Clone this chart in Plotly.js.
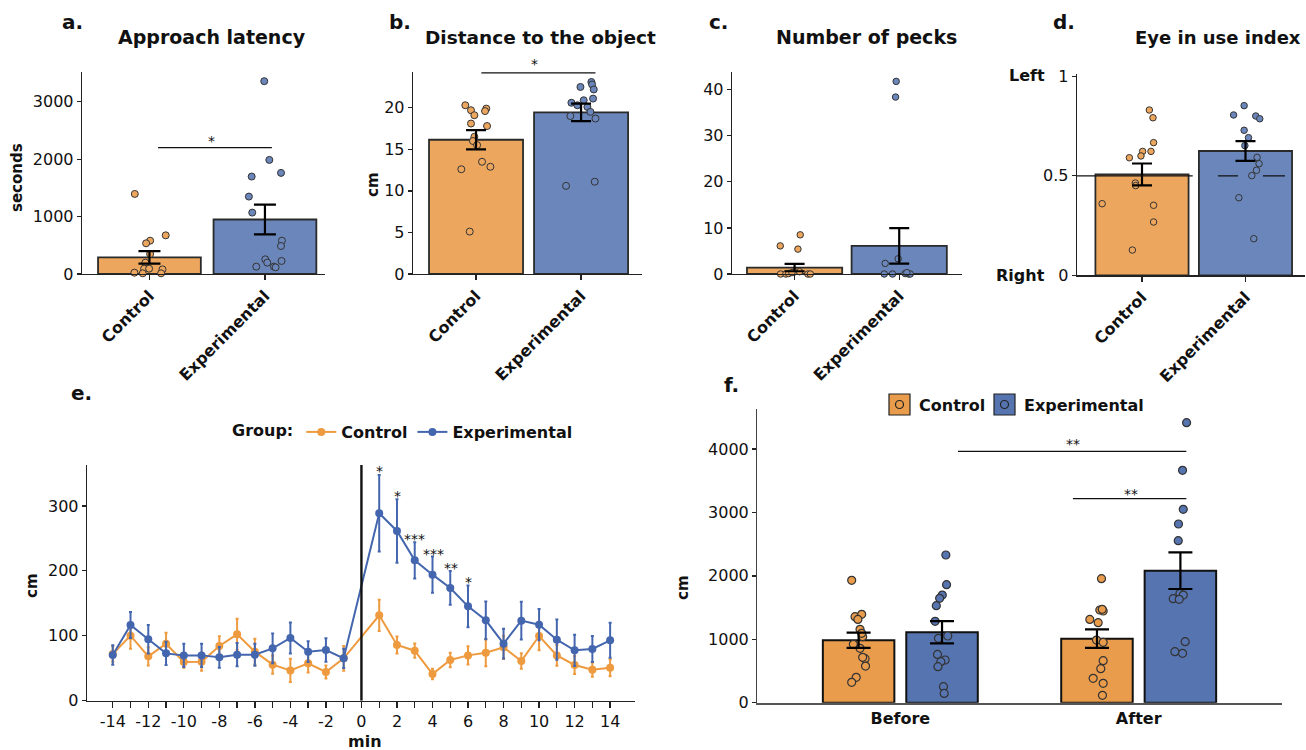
<!DOCTYPE html>
<html>
<head>
<meta charset="utf-8">
<script src="https://cdn.plot.ly/plotly-3.0.1.min.js"></script>
<style>html,body{margin:0;padding:0;background:#fff;}#chart{width:1306px;height:750px;}</style>
</head>
<body>
<div id="chart"></div>
<script>
// ---------------- DATA ----------------
const groups = ['Control', 'Experimental'];

// a. Approach latency (seconds)
const aMeans = [290, 950];
const aSE = [110, 260];
const aCtrl = [1395, 674, 581, 535, 349, 198, 93, 93, 81, 23, 12, 12];
const aCtrlJit = [-0.127, 0.141, 0.006, -0.029, 0.006, -0.035, -0.046, -0.003, 0.113, -0.13, -0.058, 0.101];
const aExp = [3360, 1988, 1762, 1698, 1349, 1070, 581, 488, 256, 198, 128, 128, 116, 227];
const aExpJit = [-0.006, 0.038, 0.139, -0.115, -0.139, -0.110, 0.147, 0.139, 0.003, 0.02, -0.075, 0.078, 0.092, 0.144];

// b. Distance to the object (cm)
const bMeans = [16.15, 19.45];
const bSE = [1.15, 1.05];
const bCtrl = [20.3, 19.7, 19.1, 19.9, 19.6, 18.1, 17.8, 16.5, 16.0, 15.5, 13.5, 12.9, 12.6, 5.1];
const bCtrlJit = [-0.102, -0.048, -0.016, 0.098, 0.086, -0.048, 0.105, -0.016, -0.029, 0.01, 0.057, 0.137, -0.14, -0.06];
const bExp = [23.1, 22.8, 22.5, 22.2, 21.1, 20.9, 20.6, 20.1, 20.3, 19.5, 19.0, 18.7, 10.6, 11.1];
const bExpJit = [0.098, 0.105, -0.006, 0.121, 0.114, 0.025, -0.092, 0.06, -0.035, 0.089, -0.102, 0.137, -0.143, 0.13];

// c. Number of pecks
const cMeans = [1.4, 6.1];
const cSE = [0.8, 3.85];
const cCtrl = [0, 0, 0.1, 0.5, 8.5, 5.4, 6.1, 0.5, 0, 0, 0.3];
const cCtrlJit = [-0.134, -0.083, -0.057, 0.006, 0.054, 0.032, -0.137, 0.048, 0.127, 0.15, -0.025];
const cExp = [41.8, 38.4, 3.3, 2.3, 0, 0, 0.1, 0, 0, 0.3];
const cExpJit = [-0.029, -0.035, -0.01, -0.134, -0.143, -0.064, 0.057, 0.089, 0.105, 0.073];

// d. Eye in use index
const dMeans = [0.507, 0.625];
const dSE = [0.055, 0.05];
const dCtrl = [0.831, 0.792, 0.667, 0.623, 0.623, 0.6, 0.591, 0.464, 0.451, 0.36, 0.352, 0.268, 0.127];
const dCtrlJit = [0.071, 0.106, 0.112, 0.006, 0.087, -0.01, -0.122, -0.064, -0.061, -0.385, 0.112, 0.112, -0.093];
const dExp = [0.853, 0.806, 0.801, 0.787, 0.729, 0.692, 0.652, 0.593, 0.561, 0.528, 0.501, 0.39, 0.184];
const dExpJit = [-0.013, -0.115, 0.099, 0.138, -0.013, 0.029, -0.006, 0.112, 0.131, 0.106, 0.061, -0.064, 0.08];
const dRef = 0.5;

// e. Distance per minute (cm)
const eMin = [-14, -13, -12, -11, -10, -9, -8, -7, -6, -5, -4, -3, -2, -1, 1, 2, 3, 4, 5, 6, 7, 8, 9, 10, 11, 12, 13, 14];
const eCtrl = [71.9, 100.2, 68.3, 87.8, 59.6, 60.1, 84.2, 102.2, 75.5, 55.5, 46.7, 57.5, 44.2, 65.2,
               131.5, 85.8, 77, 41.1, 62.7, 69.8, 74, 82.2, 61.1, 99.6, 69.8, 55, 47.8, 50.8];
const eCtrlSE = [12, 20, 14, 17, 9, 14, 15, 24, 20, 14, 18, 14, 10, 19,
                 24, 13, 11, 8, 11, 14, 21, 18, 12, 22, 16, 14, 11, 13];
const eExp = [70.4, 116.6, 94.5, 72.9, 69.8, 69.8, 66.8, 70.9, 70.9, 80.6, 96.6, 75.5, 78, 65.2,
              288.6, 261.4, 216.2, 194.1, 173.6, 145.3, 123.8, 87.8, 123.3, 117.1, 94, 77.6, 79.6, 93];
const eExpSE = [15, 20, 22, 18, 18, 18, 16, 18, 17, 23, 24, 16, 18, 15,
                59, 49, 28, 28, 26, 32, 29, 23, 29, 24, 31, 24, 20, 27];
const eTickVals = [-14, -13, -12, -11, -10, -9, -8, -7, -6, -5, -4, -3, -2, -1, 0, 1, 2, 3, 4, 5, 6, 7, 8, 9, 10, 11, 12, 13, 14];
const eTickText = ['-14', '', '-12', '', '-10', '', '-8', '', '-6', '', '-4', '', '-2', '', '0', '', '2', '', '4', '', '6', '', '8', '', '10', '', '12', '', '14'];
const eStars = ['*', '*', '***', '***', '**', '*'];

// f. Before / After (cm)
const phases = ['Before', 'After'];
const fCtrlMeans = [985, 1010];
const fCtrlSE = [120, 145];
const fExpMeans = [1110, 2082];
const fExpSE = [175, 289];
const fCtrlBefore = [1930, 1356, 1393, 1314, 1157, 1041, 1094, 920, 857, 694, 715, 578, 400, 321];
const fCtrlBeforeJit = [-0.029, -0.015, 0.013, -0.003, 0.006, 0.017, 0.013, -0.022, 0.006, 0.027, 0.017, 0.029, -0.01, -0.029];
const fExpBefore = [2329, 1861, 1698, 1646, 1530, 1283, 1052, 1015, 762, 673, 647, 568, 252, 147];
const fExpBeforeJit = [0.016, 0.019, 0.001, -0.01, -0.024, -0.029, 0.024, -0.015, -0.019, 0.013, -0.005, -0.017, 0.006, 0.009];
const fCtrlAfter = [1956, 1462, 1446, 1472, 1314, 1262, 988, 952, 662, 536, 384, 305, 116];
const fCtrlAfterJit = [0.019, 0.012, 0.026, 0.022, -0.03, 0.005, -0.002, 0.026, 0.026, 0.016, -0.016, 0.026, 0.023];
const fExpAfter = [4416, 3665, 3049, 2818, 2555, 1724, 1698, 1640, 1630, 962, 804, 778];
const fExpAfterJit = [0.026, 0.009, 0.012, -0.008, -0.009, -0.002, 0.012, -0.03, -0.005, 0.02, -0.023, 0.009];

// ---------------- STYLE ----------------
const F = 'DejaVu Sans, Arial, sans-serif';
const W = 1306, H = 750;
const px = v => v / W;
const py = v => 1 - v / H;
const ORANGE = '#EDA65E', BLUE = '#6A86BB';
const ORANGE_F = '#E99C4B', BLUE_F = '#5674B0';
const ORANGE_E = '#EE9A3F', BLUE_E = '#4466AE';
const INK = '#111';
const OUT = '#2a2a2a';

const traces = [];

function barPanel(xa, ya, means, se, ctrl, ctrlJit, exp, expJit, bw, msize, capw) {
  traces.push({type: 'bar', x: [0, 1], y: means, width: [bw, bw], xaxis: xa, yaxis: ya,
    marker: {color: [ORANGE, BLUE], line: {color: OUT, width: 1.8}}, showlegend: false, hoverinfo: 'skip'});
  traces.push({type: 'scatter', mode: 'markers', x: ctrlJit.map(j => 0 + j), y: ctrl, xaxis: xa, yaxis: ya,
    marker: {color: ORANGE, size: msize, line: {color: '#333', width: 1}}, cliponaxis: false, showlegend: false, hoverinfo: 'skip'});
  traces.push({type: 'scatter', mode: 'markers', x: expJit.map(j => 1 + j), y: exp, xaxis: xa, yaxis: ya,
    marker: {color: BLUE, size: msize, line: {color: '#333', width: 1}}, cliponaxis: false, showlegend: false, hoverinfo: 'skip'});
  traces.push({type: 'scatter', mode: 'markers', x: [0, 1], y: means, xaxis: xa, yaxis: ya,
    marker: {size: 1, opacity: 0}, error_y: {type: 'data', array: se, visible: true, color: '#000', thickness: 2.2, width: capw},
    showlegend: false, hoverinfo: 'skip'});
}

barPanel('x', 'y', aMeans, aSE, aCtrl, aCtrlJit, aExp, aExpJit, 0.89, 7, 11);
barPanel('x2', 'y2', bMeans, bSE, bCtrl, bCtrlJit, bExp, bExpJit, 0.895, 7, 10);
barPanel('x3', 'y3', cMeans, cSE, cCtrl, cCtrlJit, cExp, cExpJit, 0.91, 6.5, 10);
barPanel('x4', 'y4', dMeans, dSE, dCtrl, dCtrlJit, dExp, dExpJit, 0.9, 6.5, 10);

// e
traces.push({type: 'scatter', mode: 'lines+markers', name: 'Control', x: eMin, y: eCtrl, xaxis: 'x5', yaxis: 'y5',
  line: {color: ORANGE_E, width: 2}, marker: {color: ORANGE_E, size: 8},
  error_y: {type: 'data', array: eCtrlSE, visible: true, color: ORANGE_E, thickness: 2, width: 1.5}, hoverinfo: 'skip'});
traces.push({type: 'scatter', mode: 'lines+markers', name: 'Experimental', x: eMin, y: eExp, xaxis: 'x5', yaxis: 'y5',
  line: {color: BLUE_E, width: 2}, marker: {color: BLUE_E, size: 8},
  error_y: {type: 'data', array: eExpSE, visible: true, color: BLUE_E, thickness: 2, width: 1.5}, hoverinfo: 'skip'});

// f
const fOff = 0.175, fW = 0.3;
traces.push({type: 'bar', x: [0 - fOff, 1 - fOff], y: fCtrlMeans, width: [fW, fW], xaxis: 'x6', yaxis: 'y6',
  marker: {color: ORANGE_F, line: {color: '#111', width: 2}}, showlegend: false, hoverinfo: 'skip'});
traces.push({type: 'bar', x: [0 + fOff, 1 + fOff], y: fExpMeans, width: [fW, fW], xaxis: 'x6', yaxis: 'y6',
  marker: {color: BLUE_F, line: {color: '#111', width: 2}}, showlegend: false, hoverinfo: 'skip'});
function fPts(vals, jit, center, color) {
  traces.push({type: 'scatter', mode: 'markers', x: jit.map(j => center + j), y: vals, xaxis: 'x6', yaxis: 'y6',
    marker: {color: color, size: 8, line: {color: '#333', width: 1.2}}, cliponaxis: false, showlegend: false, hoverinfo: 'skip'});
}
fPts(fCtrlBefore, fCtrlBeforeJit, 0 - fOff, ORANGE_F);
fPts(fExpBefore, fExpBeforeJit, 0 + fOff, BLUE_F);
fPts(fCtrlAfter, fCtrlAfterJit, 1 - fOff, ORANGE_F);
fPts(fExpAfter, fExpAfterJit, 1 + fOff, BLUE_F);
traces.push({type: 'scatter', mode: 'markers', x: [0 - fOff, 1 - fOff, 0 + fOff, 1 + fOff],
  y: fCtrlMeans.concat(fExpMeans), xaxis: 'x6', yaxis: 'y6', marker: {size: 1, opacity: 0},
  error_y: {type: 'data', array: fCtrlSE.concat(fExpSE), visible: true, color: '#000', thickness: 2.2, width: 12},
  showlegend: false, hoverinfo: 'skip'});

// ---------------- AXES ----------------
const tickF = {family: F, size: 16, color: INK};
const boldTickF = {family: F, size: 16, color: INK, weight: 'bold'};
function yAx(d0, d1, range, vals, anchor, extra) {
  return Object.assign({domain: [py(d0), py(d1)], range: range, tickvals: vals, anchor: anchor,
    showline: true, linecolor: '#222', linewidth: 1.3, ticks: 'outside', ticklen: 4, tickwidth: 1.3, tickcolor: '#222',
    showgrid: false, zeroline: false, tickfont: tickF, fixedrange: true}, extra || {});
}
function xCat(d0, d1, range, anchor) {
  return {domain: [px(d0), px(d1)], range: range, tickvals: [0, 1], ticktext: groups, tickangle: -45, anchor: anchor,
    showline: true, linecolor: '#222', linewidth: 1.3, ticks: 'outside', ticklen: 5, tickwidth: 1.3, tickcolor: '#222',
    showgrid: false, zeroline: false, tickfont: boldTickF, fixedrange: true};
}

const layout = {
  width: W, height: H, margin: {l: 0, r: 0, t: 0, b: 0},
  paper_bgcolor: '#fff', plot_bgcolor: 'rgba(0,0,0,0)', barmode: 'overlay',
  font: {family: F, color: INK},
  showlegend: true,
  legend: {orientation: 'h', x: px(230), y: py(432), xanchor: 'left', yanchor: 'middle',
    title: {text: 'Group:', side: 'left', font: {family: F, size: 16, color: INK, weight: 'bold'}},
    font: {family: F, size: 16, color: INK, weight: 'bold'}, itemwidth: 30, bgcolor: 'rgba(0,0,0,0)', tracegroupgap: 0},
  xaxis: xCat(82, 325, [-0.584, 1.52], 'y'),
  yaxis: yAx(274, 72, [0, 3520], [0, 1000, 2000, 3000], 'x'),
  xaxis2: xCat(413, 642, [-0.6, 1.58], 'y2'),
  yaxis2: yAx(274, 72, [0, 24.3], [0, 5, 10, 15, 20], 'x2'),
  xaxis3: xCat(732, 962, [-0.598, 1.6], 'y3'),
  yaxis3: yAx(274, 71.7, [0, 43.9], [0, 10, 20, 30, 40], 'x3'),
  xaxis4: xCat(1077, 1305, [-0.628, 1.575], 'y4'),
  yaxis4: yAx(275.3, 74, [0, 1.012], [0, 0.5, 1], 'x4'),
  xaxis5: {domain: [px(87), px(635)], range: [-15.45, 15.4], tickvals: eTickVals, ticktext: eTickText, anchor: 'y5',
    showline: true, linecolor: '#222', linewidth: 1.3, ticks: 'outside', ticklen: 6, tickwidth: 1.3, tickcolor: '#222',
    showgrid: false, zeroline: false, tickfont: tickF, tickangle: 0, fixedrange: true},
  yaxis5: yAx(700.7, 465, [0, 363], [0, 100, 200, 300], 'x5'),
  xaxis6: {domain: [px(757.3), px(1281.7)], range: [-0.6, 1.6], tickvals: [0, 1], ticktext: phases, anchor: 'y6',
    showline: true, linecolor: '#555', linewidth: 2, ticks: '', showgrid: false, zeroline: false,
    tickfont: boldTickF, tickangle: 0, fixedrange: true},
  yaxis6: yAx(702.7, 409.3, [0, 4627], [0, 1000, 2000, 3000, 4000], 'x6', {linecolor: '#444'}),
  shapes: [],
  annotations: []
};

// significance lines and reference lines (in data units)
const L = (xr, yr, x0, x1, y0, y1, w, dash) => ({type: 'line', xref: xr, yref: yr, x0: x0, x1: x1, y0: y0, y1: y1,
  line: {color: '#111', width: w || 1.2, dash: dash || 'solid'}, layer: 'above'});
layout.shapes.push(L('x', 'y', 0.074, 1.06, 2203, 2203));
layout.shapes.push(L('x2', 'y2', 0.051, 1.137, 24.2, 24.2));
layout.shapes.push(L('x4', 'y4', -0.628, 0.49, dRef, dRef, 1.3));
layout.shapes.push(L('x4', 'y4', 0.734, 0.928, dRef, dRef, 1.3));
layout.shapes.push(L('x4', 'y4', 1.169, 1.382, dRef, dRef, 1.3));
layout.shapes.push(L('x5', 'y5', 0, 0, 0, 363, 2.4));
layout.shapes.push(L('x6', 'y6', 0.242, 1.2, 3964, 3964));
layout.shapes.push(L('x6', 'y6', 0.724, 1.2, 3218, 3218));

// f legend boxes
function legBox(x0, color) {
  layout.shapes.push({type: 'rect', xref: 'paper', yref: 'paper', x0: px(x0), x1: px(x0 + 21), y0: py(415), y1: py(394),
    fillcolor: color, line: {color: '#222', width: 1.2}});
  layout.shapes.push({type: 'circle', xref: 'paper', yref: 'paper', x0: px(x0 + 6.5), x1: px(x0 + 14.5), y0: py(408.5), y1: py(400.5),
    fillcolor: color, line: {color: '#222', width: 1.2}});
}
legBox(889, ORANGE_F);
legBox(994, BLUE_F);

// annotations
function ann(text, x, y, o) {
  layout.annotations.push(Object.assign({text: text, xref: 'paper', yref: 'paper', x: px(x), y: py(y),
    xanchor: 'center', yanchor: 'middle', showarrow: false, font: {family: F, size: 16, color: INK}}, o || {}));
}
const bold = (s, sz) => ({font: {family: F, size: sz, color: INK, weight: 'bold'}});
// panel letters
ann('a.', 72, 22, bold('', 20)); ann('b.', 400, 22, bold('', 20)); ann('c.', 718, 22, bold('', 20));
ann('d.', 1064, 22, bold('', 20)); ann('e.', 82, 393, bold('', 20)); ann('f.', 731, 385, bold('', 20));
// titles
ann('Approach latency', 212, 37, bold('', 19));
ann('Distance to the object', 540, 37, bold('', 18.5));
ann('Number of pecks', 866, 37, bold('', 19));
ann('Eye in use index', 1303, 37, Object.assign(bold('', 18), {xanchor: 'right'}));
// y labels
ann('seconds', 17, 178, Object.assign(bold('', 15), {textangle: -90}));
ann('cm', 373, 185, Object.assign(bold('', 15), {textangle: -90}));
ann('cm', 32, 586, Object.assign(bold('', 15), {textangle: -90}));
ann('cm', 683, 588, Object.assign(bold('', 15), {textangle: -90}));
ann('min', 365, 741, bold('', 16));
// Left / Right
ann('Left', 1047, 76, Object.assign(bold('', 16), {xanchor: 'right'}));
ann('Right', 1047, 275, Object.assign(bold('', 16), {xanchor: 'right'}));
// f legend text
ann('Control', 917, 405, Object.assign(bold('', 16), {xanchor: 'left'}));
ann('Experimental', 1022, 405, Object.assign(bold('', 16), {xanchor: 'left'}));
// significance stars
const starF = {font: {family: F, size: 14, color: INK}, yshift: -3};
ann('*', 211, 138, starF);
ann('*', 534, 61, starF);
ann('**', 1073, 441, starF);
ann('**', 1131, 491, starF);
const eStarPx = [[379, 468], [397, 493], [415, 536], [433, 551], [451, 565], [468, 579]];
eStars.forEach((s, i) => ann(s, eStarPx[i][0], eStarPx[i][1], starF));

Plotly.newPlot('chart', traces, layout, {staticPlot: true, displayModeBar: false});
</script>
</body>
</html>
